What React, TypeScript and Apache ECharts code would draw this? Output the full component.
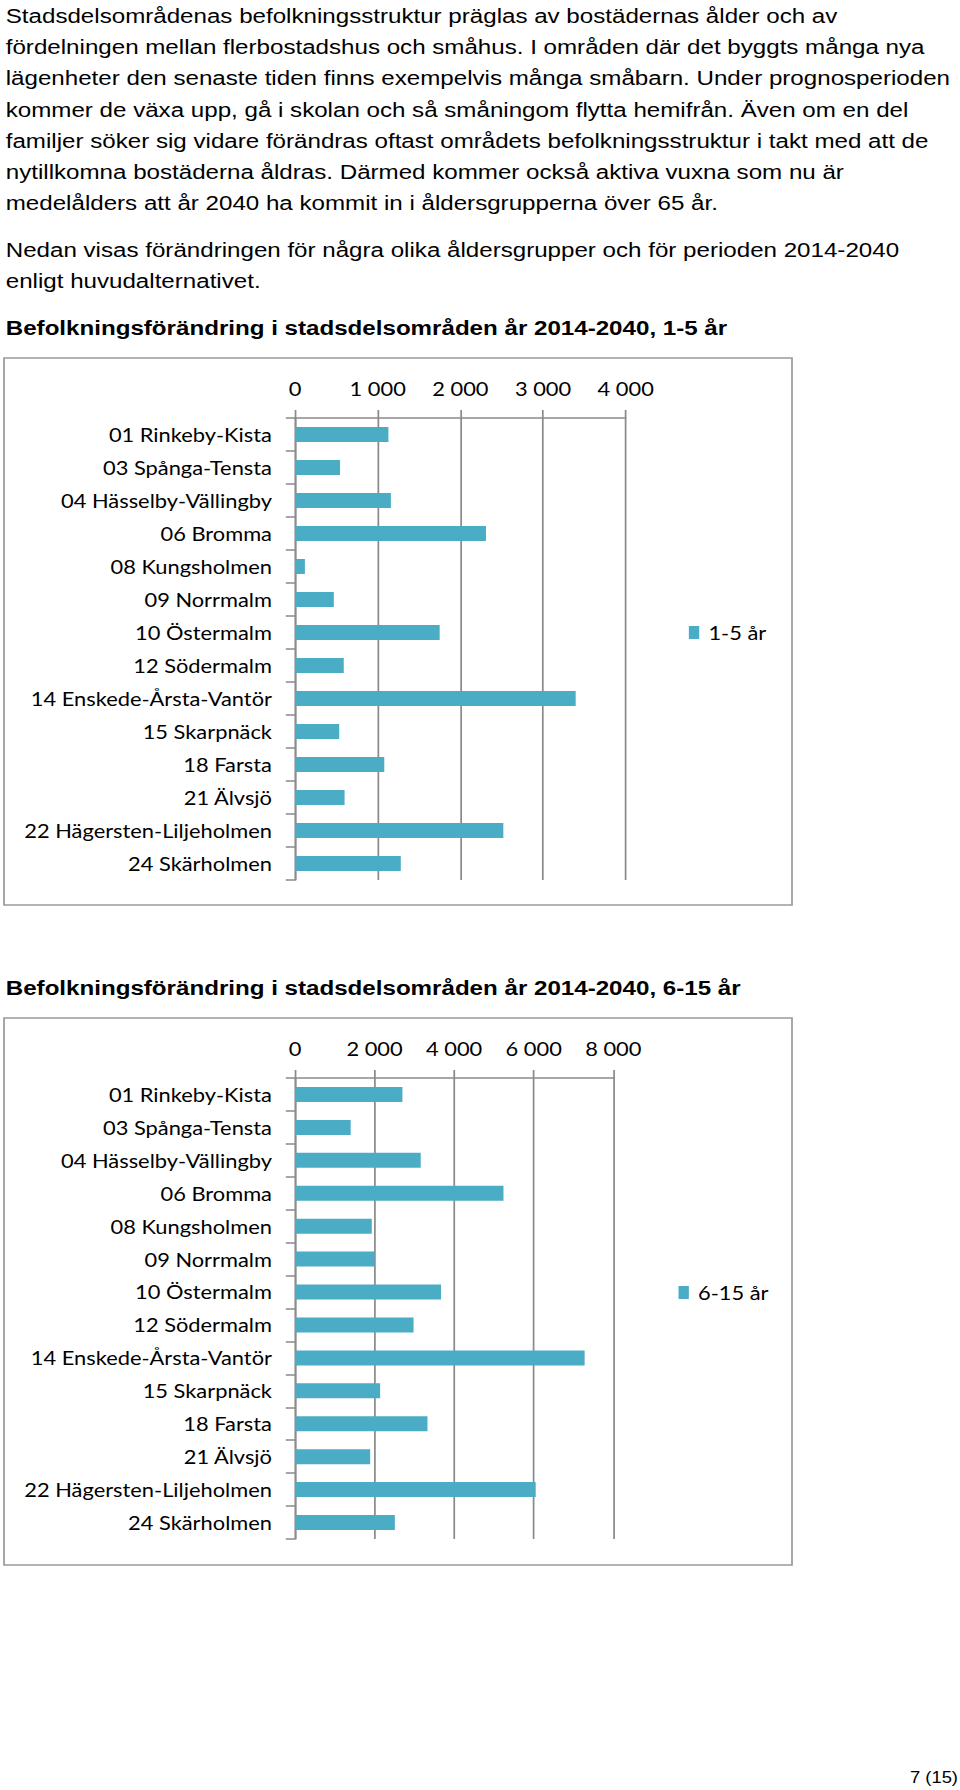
import React, { useEffect, useRef } from "react";
import * as echarts from "echarts";

// Horizontal stretch of the reference page (text & chart are wider than tall)
const S = 1.15;
const W = 834.7;

const paragraphLines = [
  "Stadsdelsområdenas befolkningsstruktur präglas av bostädernas ålder och av",
  "fördelningen mellan flerbostadshus och småhus. I områden där det byggts många nya",
  "lägenheter den senaste tiden finns exempelvis många småbarn. Under prognosperioden",
  "kommer de växa upp, gå i skolan och så småningom flytta hemifrån. Även om en del",
  "familjer söker sig vidare förändras oftast områdets befolkningsstruktur i takt med att de",
  "nytillkomna bostäderna åldras. Därmed kommer också aktiva vuxna som nu är",
  "medelålders att år 2040 ha kommit in i åldersgrupperna över 65 år.",
];
const paragraph2Lines = [
  "Nedan visas förändringen för några olika åldersgrupper och för perioden 2014-2040",
  "enligt huvudalternativet.",
];
const title1 = "Befolkningsförändring i stadsdelsområden år 2014-2040, 1-5 år";
const title2 = "Befolkningsförändring i stadsdelsområden år 2014-2040, 6-15 år";
const pageNumber = "7 (15)";

const categories = [
  "01 Rinkeby-Kista",
  "03 Spånga-Tensta",
  "04 Hässelby-Vällingby",
  "06 Bromma",
  "08 Kungsholmen",
  "09 Norrmalm",
  "10 Östermalm",
  "12 Södermalm",
  "14 Enskede-Årsta-Vantör",
  "15 Skarpnäck",
  "18 Farsta",
  "21 Älvsjö",
  "22 Hägersten-Liljeholmen",
  "24 Skärholmen",
];
const seriesName1 = "1-5 år";
const age1to5 = [1130, 545, 1160, 2310, 120, 470, 1750, 590, 3395, 535, 1080, 600, 2520, 1280];
const seriesName2 = "6-15 år";
const age6to15 = [2700, 1400, 3160, 5240, 1930, 2000, 3670, 2980, 7280, 2140, 3330, 1890, 6050, 2510];

const axis1Max = 4000;
const axis1Interval = 1000;
const axis2Max = 8000;
const axis2Interval = 2000;

const fmt = (v: number) => String(v).replace(/\B(?=(\d{3})+(?!\d))/g, " ");

const GRAY = "#8a8a8a";
const BAR = "#4BACC6";
const LABEL_FONT = "Lato";
const BODY_FONT = "'Liberation Sans', Arial, sans-serif";

function valueAxis(gridIndex: number, max: number, interval: number) {
  return {
    type: "value",
    gridIndex,
    position: "top",
    min: 0,
    max,
    interval,
    axisLine: { show: true, lineStyle: { color: GRAY, width: 1.5 } },
    axisTick: { show: true, length: 8, lineStyle: { color: GRAY, width: 1.5 } },
    splitLine: { show: true, lineStyle: { color: GRAY, width: 1.5 } },
    axisLabel: {
      margin: 20,
      color: "#000",
      fontSize: 19,
      fontFamily: LABEL_FONT,
      formatter: (v: number) => fmt(v),
    },
  };
}

function categoryAxis(gridIndex: number) {
  return {
    type: "category",
    gridIndex,
    data: categories,
    inverse: true,
    axisLine: { show: true, lineStyle: { color: GRAY, width: 1.5 } },
    axisTick: { show: true, length: 8, lineStyle: { color: GRAY, width: 1.5 } },
    axisLabel: { margin: 20, color: "#000", fontSize: 19, fontFamily: LABEL_FONT, interval: 0 },
    splitLine: { show: false },
  };
}

export default function App() {
  const ref = useRef<HTMLDivElement>(null);
  useEffect(() => {
    if (!ref.current) return;
    const chart = echarts.init(ref.current, null, { renderer: "svg" });
    const lineGap = 31.2;
    const graphic: any[] = [];
    paragraphLines.forEach((t, i) => {
      graphic.push({
        type: "text",
        x: 5,
        y: 16 + i * lineGap,
        style: { text: t, fontSize: 21, fontFamily: BODY_FONT, fill: "#000", verticalAlign: "middle" },
      });
    });
    paragraph2Lines.forEach((t, i) => {
      graphic.push({
        type: "text",
        x: 5,
        y: 250 + i * lineGap,
        style: { text: t, fontSize: 21, fontFamily: BODY_FONT, fill: "#000", verticalAlign: "middle" },
      });
    });
    graphic.push({
      type: "text",
      x: 5,
      y: 328,
      style: { text: title1, fontSize: 21, fontWeight: "bold", fontFamily: BODY_FONT, fill: "#000", verticalAlign: "middle" },
    });
    graphic.push({
      type: "text",
      x: 5,
      y: 988,
      style: { text: title2, fontSize: 21, fontWeight: "bold", fontFamily: BODY_FONT, fill: "#000", verticalAlign: "middle" },
    });
    graphic.push({
      type: "rect",
      shape: { x: 3.5, y: 358, width: 685.2, height: 547 },
      style: { fill: "none", stroke: "#9a9a9a", lineWidth: 1.5 },
      z: -1,
    });
    graphic.push({
      type: "rect",
      shape: { x: 3.5, y: 1018, width: 685.2, height: 547 },
      style: { fill: "none", stroke: "#9a9a9a", lineWidth: 1.5 },
      z: -1,
    });
    graphic.push({
      type: "text",
      x: 958 / S,
      y: 1777,
      style: { text: pageNumber, fontSize: 16, fontFamily: BODY_FONT, fill: "#000", align: "right", verticalAlign: "middle" },
    });

    const legendCommon = {
      orient: "vertical",
      icon: "rect",
      itemWidth: 9,
      itemHeight: 13,
      textStyle: { fontSize: 19, fontFamily: LABEL_FONT, color: "#000", padding: [0, 0, 0, 3] },
    };

    chart.setOption({
      animation: false,
      textStyle: { fontFamily: LABEL_FONT },
      graphic,
      grid: [
        { left: 256.5, top: 418, width: 287.6, height: 462 },
        { left: 256.5, top: 1078, width: 276.8, height: 461 },
      ],
      xAxis: [valueAxis(0, axis1Max, axis1Interval), valueAxis(1, axis2Max, axis2Interval)],
      yAxis: [categoryAxis(0), categoryAxis(1)],
      legend: [
        { ...legendCommon, data: [seriesName1], left: 594, top: 618 },
        { ...legendCommon, data: [seriesName2], left: 585, top: 1278 },
      ],
      series: [
        {
          type: "bar",
          name: seriesName1,
          xAxisIndex: 0,
          yAxisIndex: 0,
          data: age1to5,
          barWidth: 15,
          itemStyle: { color: BAR },
        },
        {
          type: "bar",
          name: seriesName2,
          xAxisIndex: 1,
          yAxisIndex: 1,
          data: age6to15,
          barWidth: 15,
          itemStyle: { color: BAR },
        },
      ],
    });
    return () => chart.dispose();
  }, []);
  return (
    <div
      ref={ref}
      style={{
        position: "absolute",
        left: 0,
        top: 0,
        width: W,
        height: 1790,
        transform: `scaleX(${S})`,
        transformOrigin: "0 0",
        background: "#fff",
      }}
    />
  );
}
